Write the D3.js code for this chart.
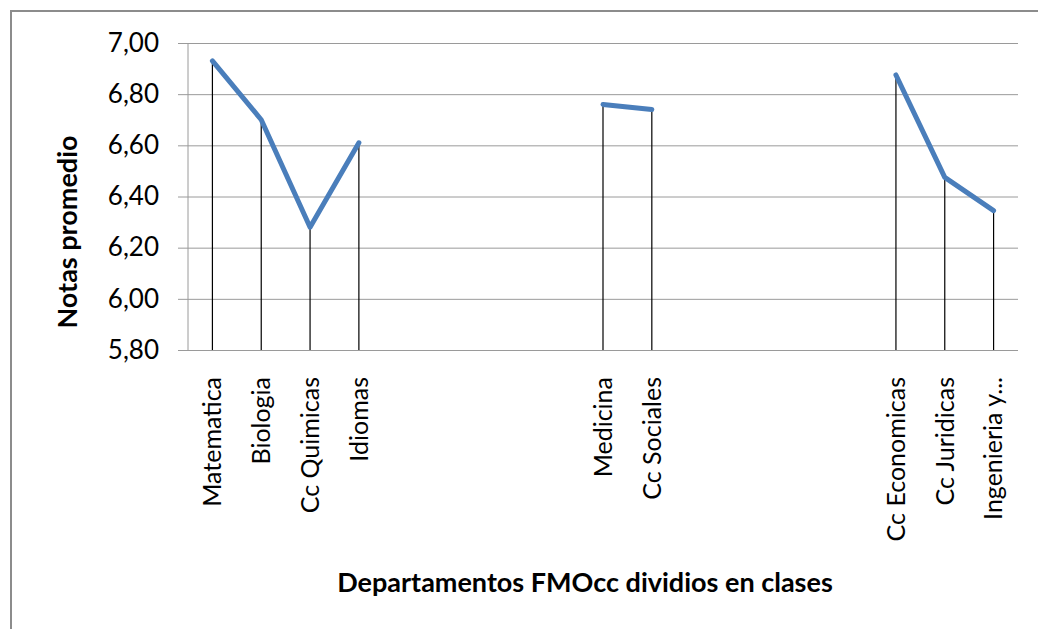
<!DOCTYPE html>
<html>
<head>
<meta charset="utf-8">
<script src="https://cdn.jsdelivr.net/npm/d3@7"></script>
<style>
  body { margin: 0; background: #fff; }
  text { font-family: Lato, "Open Sans", sans-serif; fill: #000; }
</style>
</head>
<body>
<script>
(function() {
	"use strict";
	// empty slots keep the gaps between the groups
	const CATEGORIES = [ "Matematica", "Biologia", "Cc Quimicas", "Idiomas",
	                     "", "", "", "",
	                     "Medicina", "Cc Sociales",
	                     "", "", "", "",
	                     "Cc Economicas", "Cc Juridicas", "Ingenieria y..." ],
	   NOTAS = [ 6.93, 6.70, 6.28, 6.61,
	             null, null, null, null,
	             6.76, 6.74,
	             null, null, null, null,
	             6.875, 6.475, 6.345 ],
	   Y_TICKS = [ 5.8, 6.0, 6.2, 6.4, 6.6, 6.8, 7.0 ];

	const W = 1038, H = 629,
	   m = { left: 188, right: 1018, top: 43, bottom: 350 };

	let svg = d3.select("body").append("svg").attr("width", W).attr("height", H);

	// outer frame
	svg.append("rect").attr("x", 11).attr("y", 11).attr("width", W + 20).attr("height", H + 20)
	  .attr("fill", "none").attr("stroke", "#8c8c8c").attr("stroke-width", 2);

	const idx = CATEGORIES.map((d, i) => i);
	const x = d3.scaleBand().domain(idx).range([m.left, m.right]);
	const y = d3.scaleLinear().domain([5.8, 7.0]).range([m.bottom, m.top]);
	const fmt = d => d3.format(".2f")(d).replace(".", ",");

	// grid + y axis
	let yAxis = svg.append("g").attr("transform", "translate(" + m.left + ",0)")
	  .call(d3.axisLeft(y).tickValues(Y_TICKS).tickFormat(fmt)
	    .tickSize(-(m.right - m.left)).tickPadding(29));
	yAxis.select(".domain").remove();
	yAxis.selectAll(".tick line").attr("stroke", "#9a9a9a").attr("x1", -10);
	yAxis.selectAll(".tick text").attr("font-size", 26).attr("font-family", "Lato, sans-serif");
	svg.append("line").attr("x1", m.left).attr("x2", m.left).attr("y1", m.top).attr("y2", m.bottom)
	  .attr("stroke", "#9a9a9a");

	// x axis labels
	let xAxis = svg.append("g").attr("transform", "translate(0," + m.bottom + ")")
	  .call(d3.axisBottom(x).tickFormat(i => CATEGORIES[i]).tickSize(0));
	xAxis.select(".domain").remove();
	xAxis.selectAll(".tick text").attr("font-size", 25).attr("font-family", "Lato, sans-serif")
	  .attr("transform", "rotate(-90)").attr("text-anchor", "end")
	  .attr("x", -27).attr("y", 0).attr("dy", "0.35em");

	const pts = idx.filter(i => NOTAS[i] != null);
	const cx = i => x(i) + x.bandwidth() / 2;

	// drop lines
	svg.selectAll("line.drop").data(pts).enter().append("line").attr("class", "drop")
	  .attr("x1", cx).attr("x2", cx).attr("y1", i => y(NOTAS[i])).attr("y2", m.bottom)
	  .attr("stroke", "#000").attr("stroke-width", 1.2);

	// series line, broken at the gaps
	const line = d3.line().defined(i => NOTAS[i] != null).x(cx).y(i => y(NOTAS[i]));
	svg.append("path").attr("d", line(idx)).attr("fill", "none")
	  .attr("stroke", "#4a7ebb").attr("stroke-width", 5)
	  .attr("stroke-linecap", "round").attr("stroke-linejoin", "round");

	// titles
	svg.append("text").attr("transform", "translate(77,232) rotate(-90)")
	  .attr("text-anchor", "middle").attr("font-size", 27).attr("font-weight", "bold")
	  .text("Notas promedio");
	svg.append("text").attr("x", 585).attr("y", 592)
	  .attr("text-anchor", "middle").attr("font-size", 27).attr("font-weight", "bold")
	  .text("Departamentos FMOcc dividios  en clases");
}());
</script>
</body>
</html>
